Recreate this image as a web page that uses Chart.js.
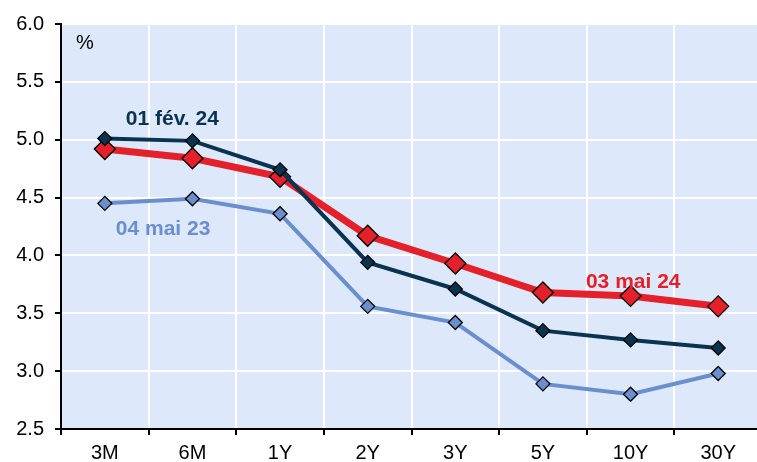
<!DOCTYPE html>
<html>
<head>
<meta charset="utf-8">
<script src="https://cdn.jsdelivr.net/npm/chart.js@4"></script>
<style>
  html, body { margin: 0; padding: 0; background: #fff; overflow: hidden; }
  #wrap { width: 762px; height: 462px; }
</style>
</head>
<body>
<div id="wrap"><canvas id="curveChart" width="762" height="462"></canvas></div>
<script>
// maturities on the curve
const maturities = ["3M", "6M", "1Y", "2Y", "3Y", "5Y", "10Y", "30Y"];

// yields in %
const fev24 = [5.01, 4.99, 4.74, 3.94, 3.71, 3.35, 3.27, 3.20];
const mai24 = [4.92, 4.84, 4.68, 4.17, 3.93, 3.68, 3.65, 3.56];
const mai23 = [4.45, 4.49, 4.36, 3.56, 3.42, 2.89, 2.80, 2.98];

const yTicks = [2.5, 3.0, 3.5, 4.0, 4.5, 5.0, 5.5, 6.0];

const NAVY = '#0a3350';
const RED = '#e4202a';
const LIGHT = '#6a8fcc';
const PLOT_BG = '#dde9fa';
const FONT = '"Liberation Sans", Arial, sans-serif';

// light blue plot area + series labels written on the chart
const decorPlugin = {
    id: 'decor',
    beforeDraw(chart) {
        const { ctx, chartArea: a } = chart;
        ctx.save();
        ctx.fillStyle = PLOT_BG;
        ctx.fillRect(a.left, a.top, a.right - a.left, a.bottom - a.top);
        ctx.restore();
    },
    afterDatasetsDraw(chart) {
        const { ctx } = chart;
        const x = chart.scales.x, y = chart.scales.y;
        ctx.save();
        ctx.font = 'bold 21px ' + FONT;
        ctx.textBaseline = 'middle';
        ctx.textAlign = 'left';
        ctx.fillStyle = NAVY;
        ctx.fillText('01 fév. 24', x.getPixelForValue(0) + 21, y.getPixelForValue(5.18));
        ctx.fillStyle = LIGHT;
        ctx.fillText('04 mai 23', x.getPixelForValue(0) + 11, y.getPixelForValue(4.23));
        ctx.fillStyle = RED;
        ctx.fillText('03 mai 24', x.getPixelForValue(5) + 43, y.getPixelForValue(3.77));
        ctx.fillStyle = '#000';
        ctx.font = '20px ' + FONT;
        ctx.fillText('%', x.left + 15, y.getPixelForValue(5.83));
        ctx.restore();
    }
};

function lineSet(label, data, color, width, radius) {
    return {
        label: label,
        data: data,
        borderColor: color,
        borderWidth: width,
        tension: 0,
        pointStyle: 'rectRot',
        pointRadius: radius,
        pointHoverRadius: radius,
        pointBackgroundColor: color,
        pointBorderColor: '#000',
        pointBorderWidth: 1.3
    };
}

new Chart(document.getElementById('curveChart').getContext('2d'), {
    type: 'line',
    data: {
        labels: maturities,
        datasets: [
            lineSet('01 fév. 24', fev24, NAVY, 4, 7),
            lineSet('03 mai 24', mai24, RED, 7, 10.5),
            lineSet('04 mai 23', mai23, LIGHT, 4, 7)
        ]
    },
    options: {
        responsive: false,
        animation: false,
        layout: { autoPadding: false, padding: { top: 24, right: 0, bottom: 0, left: 0 } },
        plugins: {
            legend: { display: false },
            tooltip: { enabled: false }
        },
        scales: {
            x: {
                offset: true,
                grid: {
                    offset: true,
                    color: '#ffffff',
                    lineWidth: 2,
                    tickColor: '#000',
                    tickLength: 6,
                    tickWidth: 2
                },
                border: { color: '#000', width: 2 },
                ticks: {
                    color: '#000',
                    padding: 6,
                    font: { family: FONT, size: 20 }
                },
                afterFit(scale) {
                    scale.height = 33;
                    scale.paddingLeft = 0;
                    scale.paddingRight = 0;
                }
            },
            y: {
                min: 2.5,
                max: 6.0,
                afterBuildTicks(scale) { scale.ticks = yTicks.map(v => ({ value: v })); },
                grid: {
                    color: '#ffffff',
                    lineWidth: 2,
                    tickColor: '#000',
                    tickLength: 6,
                    tickWidth: 2
                },
                border: { color: '#000', width: 2 },
                ticks: {
                    color: '#000',
                    padding: 11,
                    font: { family: FONT, size: 20 },
                    callback: v => Number(v).toFixed(1)
                },
                afterFit(scale) {
                    scale.width = 61;
                    scale.paddingTop = 0;
                    scale.paddingBottom = 0;
                }
            }
        }
    },
    plugins: [decorPlugin]
});
</script>
</body>
</html>
